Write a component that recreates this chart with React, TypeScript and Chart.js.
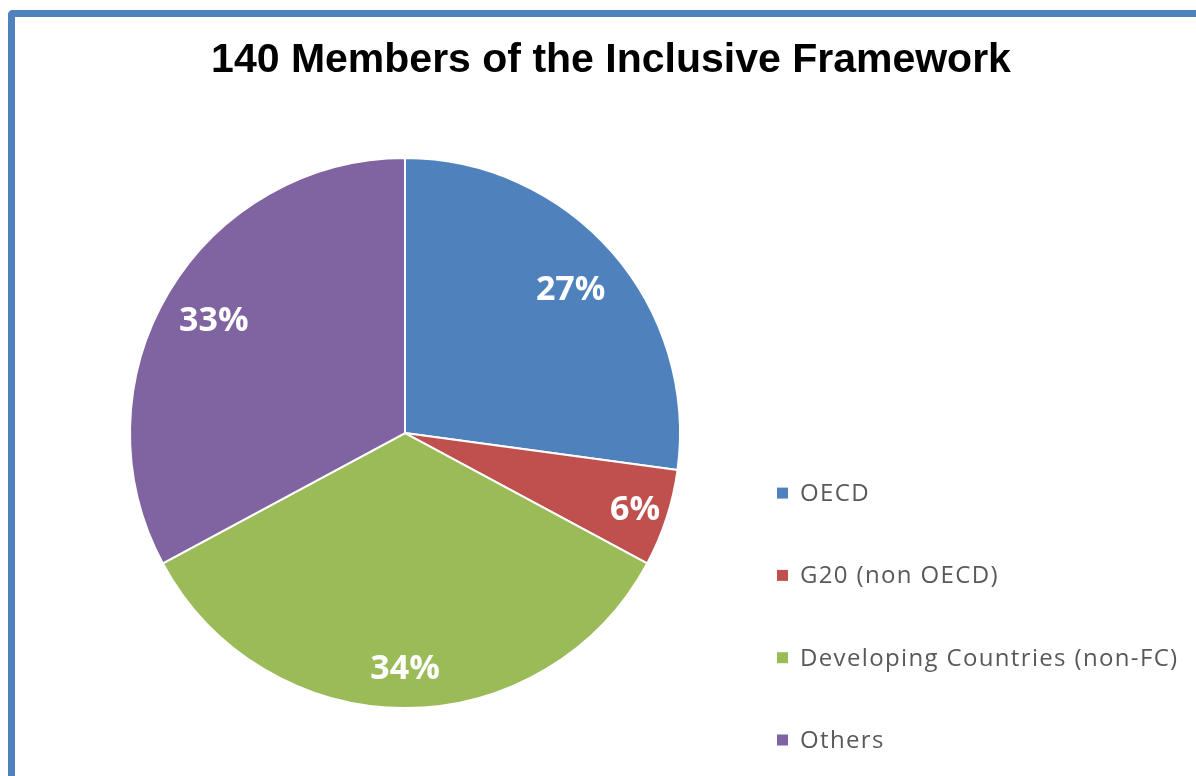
import React, { useEffect, useRef } from 'react';
import { Chart, registerables, layouts } from 'chart.js';

Chart.register(...registerables);

const TITLE = '140 Members of the Inclusive Framework';
const categories = ['OECD', 'G20 (non OECD)', 'Developing Countries (non-FC)', 'Others'];
const memberCounts = [38, 8, 48, 46];
const sliceColors = ['#4F81BD', '#C0504D', '#9BBB59', '#8064A2'];
const labelRadialFractions = [0.8, 0.88, 0.85, 0.81];

const CANVAS_W = 1181;
const CANVAS_H = 759;
const LEGEND_WIDTH = 412;
const LEGEND_STEP = 82.3;

const pctLabels = {
  id: 'pctLabels',
  afterDatasetsDraw(chart: any) {
    const meta = chart.getDatasetMeta(0);
    const data = chart.data.datasets[0].data as number[];
    const total = data.reduce((a, b) => a + b, 0);
    const ctx = chart.ctx;
    ctx.save();
    ctx.font = 'bold 34px "Open Sans"';
    ctx.fillStyle = '#ffffff';
    ctx.textAlign = 'center';
    ctx.textBaseline = 'middle';
    meta.data.forEach((arc: any, i: number) => {
      const { x, y, startAngle, endAngle, outerRadius } = arc.getProps(
        ['x', 'y', 'startAngle', 'endAngle', 'outerRadius'],
        true
      );
      const mid = (startAngle + endAngle) / 2;
      const r = outerRadius * labelRadialFractions[i];
      ctx.fillText(Math.round((data[i] / total) * 100) + '%', x + Math.cos(mid) * r, y + Math.sin(mid) * r + 2);
    });
    ctx.restore();
  },
};

const sideLegend = {
  id: 'sideLegend',
  beforeInit(chart: any) {
    const box: any = {
      position: 'right',
      weight: 10,
      fullSize: false,
      options: {},
      left: 0,
      top: 0,
      right: 0,
      bottom: 0,
      width: 0,
      height: 0,
      isHorizontal() {
        return false;
      },
      update(maxWidth: number, maxHeight: number) {
        this.width = Math.min(LEGEND_WIDTH, maxWidth);
        this.height = maxHeight;
      },
      draw() {
        const ctx = chart.ctx;
        const labels = chart.data.labels as string[];
        const colors = chart.data.datasets[0].backgroundColor as string[];
        ctx.save();
        ctx.font = '24px "Open Sans"';
        (ctx as any).letterSpacing = '1.35px';
        ctx.textAlign = 'left';
        ctx.textBaseline = 'middle';
        const n = labels.length;
        labels.forEach((lab, i) => {
          const cy = this.bottom - 8 - (n - 1 - i) * LEGEND_STEP;
          ctx.fillStyle = colors[i];
          ctx.fillRect(this.left + 2, cy - 5.5, 11, 11);
          ctx.fillStyle = '#595959';
          ctx.fillText(lab, this.left + 25, cy + 1);
        });
        ctx.restore();
      },
    };
    layouts.addBox(chart, box);
    chart.$sideLegendBox = box;
  },
  beforeDestroy(chart: any) {
    if (chart.$sideLegendBox) layouts.removeBox(chart, chart.$sideLegendBox);
  },
};

function PieChart() {
  const ref = useRef<HTMLCanvasElement | null>(null);
  useEffect(() => {
    if (!ref.current) return;
    const chart = new Chart(ref.current, {
      type: 'pie',
      data: {
        labels: categories,
        datasets: [
          {
            data: memberCounts,
            backgroundColor: sliceColors,
            borderColor: '#ffffff',
            borderWidth: 2,
            radius: 275,
          } as any,
        ],
      },
      options: {
        responsive: false,
        animation: false,
        layout: { padding: { left: 20, right: 9, top: 0, bottom: 28 } },
        plugins: {
          legend: { display: false },
          tooltip: { enabled: false },
          title: {
            display: true,
            text: TITLE,
            color: '#000000',
            font: { family: '"Liberation Sans", Arial, sans-serif', size: 41, weight: 'bold', lineHeight: 1.2 },
            padding: { top: 19, bottom: 33 },
          },
        },
      },
      plugins: [pctLabels, sideLegend],
    });
    return () => chart.destroy();
  }, []);
  return <canvas ref={ref} width={CANVAS_W} height={CANVAS_H} style={{ display: 'block' }} />;
}

export default function App() {
  return (
    <div
      style={{
        position: 'absolute',
        left: 8,
        top: 10,
        borderLeft: '7px solid #4F81BD',
        borderTop: '7px solid #4F81BD',
        borderTopLeftRadius: 5,
        background: '#ffffff',
      }}
    >
      <PieChart />
    </div>
  );
}
